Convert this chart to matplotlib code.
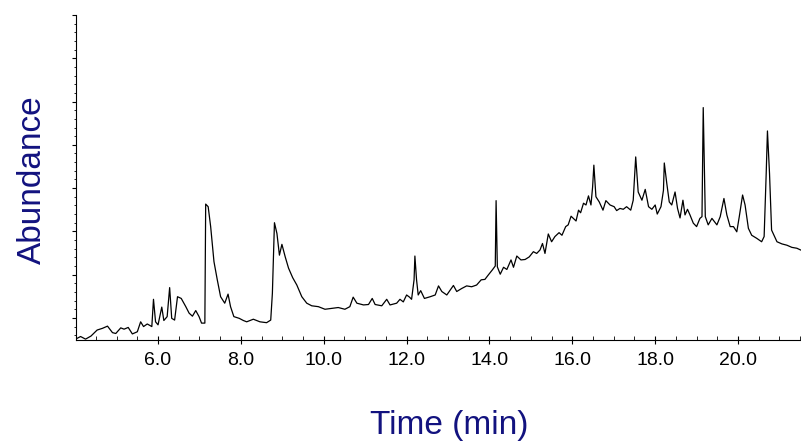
import matplotlib.pyplot as plt
from matplotlib.ticker import MultipleLocator

# retention time (min)
time = [4.01, 4.13, 4.25, 4.38, 4.53, 4.66, 4.78, 4.90, 4.98, 5.10,
        5.18, 5.28, 5.38, 5.50, 5.58, 5.65, 5.74, 5.85, 5.89, 5.94,
        6.00, 6.09, 6.14, 6.22, 6.28, 6.33, 6.40, 6.47, 6.56, 6.67,
        6.75, 6.83, 6.91, 6.99, 7.05, 7.13, 7.15, 7.21, 7.27, 7.35,
        7.43, 7.51, 7.61, 7.69, 7.75, 7.83, 7.96, 8.06, 8.14, 8.30,
        8.46, 8.62, 8.72, 8.76, 8.81, 8.87, 8.93, 8.99, 9.07, 9.15,
        9.25, 9.35, 9.47, 9.59, 9.71, 9.87, 10.03, 10.19, 10.35, 10.51,
        10.63, 10.71, 10.80, 10.96, 11.08, 11.17, 11.24, 11.40, 11.52, 11.60,
        11.76, 11.84, 11.92, 12.00, 12.07, 12.12, 12.18, 12.20, 12.24, 12.28,
        12.34, 12.43, 12.57, 12.69, 12.77, 12.85, 12.97, 13.05, 13.13, 13.21,
        13.33, 13.45, 13.57, 13.69, 13.80, 13.89, 13.97, 14.07, 14.14, 14.16,
        14.19, 14.26, 14.34, 14.42, 14.52, 14.58, 14.66, 14.76, 14.86, 14.96,
        15.06, 15.14, 15.22, 15.28, 15.34, 15.42, 15.50, 15.58, 15.68, 15.75,
        15.84, 15.90, 15.97, 16.09, 16.15, 16.20, 16.27, 16.33, 16.39, 16.45,
        16.49, 16.52, 16.57, 16.65, 16.74, 16.81, 16.91, 17.01, 17.07, 17.15,
        17.23, 17.31, 17.41, 17.47, 17.53, 17.59, 17.68, 17.76, 17.84, 17.92,
        18.00, 18.05, 18.14, 18.20, 18.22, 18.28, 18.34, 18.40, 18.48, 18.54,
        18.60, 18.67, 18.72, 18.78, 18.84, 18.92, 19.00, 19.08, 19.13, 19.16,
        19.21, 19.28, 19.37, 19.49, 19.57, 19.66, 19.73, 19.81, 19.89, 19.97,
        20.03, 20.11, 20.17, 20.25, 20.33, 20.45, 20.57, 20.63, 20.68, 20.71,
        20.76, 20.81, 20.94, 21.06, 21.18, 21.30, 21.42, 21.51]

# abundance (arbitrary units)
abundance = [0.2, 0.8, 0.2, 0.9, 2.3, 2.7, 3.2, 1.7, 1.5, 2.8,
             2.5, 2.9, 1.4, 1.9, 4.2, 3.1, 3.7, 3.1, 9.4, 4.2,
             3.5, 7.6, 4.5, 5.4, 12.1, 5.0, 4.6, 10.0, 9.6, 7.7,
             6.2, 5.5, 6.8, 5.4, 3.9, 3.9, 31.4, 30.8, 26.2, 18.1,
             13.9, 10.0, 8.5, 10.6, 7.7, 5.4, 5.0, 4.5, 4.2, 4.8,
             4.2, 4.0, 4.6, 10.8, 27.1, 24.6, 19.6, 22.1, 19.2, 16.6,
             14.4, 12.7, 10.0, 8.5, 7.9, 7.7, 7.1, 7.3, 7.5, 7.1,
             7.7, 9.9, 8.5, 8.1, 8.2, 9.6, 8.2, 7.9, 9.4, 8.1,
             8.5, 9.4, 8.8, 10.4, 9.9, 9.4, 13.9, 19.4, 13.9, 10.4,
             11.4, 9.6, 10.0, 10.4, 12.5, 11.2, 10.4, 11.5, 12.6, 11.2,
             11.9, 12.5, 12.3, 12.7, 13.9, 14.0, 15.0, 16.2, 17.1, 32.2,
             16.9, 15.2, 16.8, 16.3, 18.5, 16.8, 19.4, 18.5, 18.6, 19.2,
             20.4, 20.0, 20.8, 22.3, 20.0, 24.5, 22.7, 23.9, 24.8, 24.2,
             26.2, 26.6, 28.6, 27.5, 30.0, 29.4, 31.6, 31.2, 33.3, 31.2,
             35.4, 40.4, 33.1, 31.9, 30.0, 32.2, 31.2, 30.8, 29.9, 30.4,
             30.2, 30.8, 30.0, 32.3, 42.3, 34.2, 32.3, 34.8, 30.8, 30.2,
             31.2, 29.1, 30.8, 34.6, 40.9, 36.2, 31.9, 31.2, 34.2, 30.4,
             28.2, 32.3, 28.9, 30.2, 28.9, 27.0, 26.2, 28.1, 28.5, 53.7,
             28.5, 26.6, 28.1, 26.6, 28.5, 32.7, 28.9, 26.2, 26.2, 25.0,
             28.5, 33.5, 31.2, 25.8, 24.2, 23.5, 22.7, 23.9, 38.5, 48.3,
             38.5, 25.4, 22.7, 22.2, 21.9, 21.4, 21.2, 20.8]

xticks = [6.0, 8.0, 10.0, 12.0, 14.0, 16.0, 18.0, 20.0]
label_color = "#12127f"

plt.rcParams["font.family"] = ["Liberation Sans", "DejaVu Sans"]

fig = plt.figure(figsize=(8.01, 4.46), dpi=100)
ax = fig.add_axes([0.0949, 0.2377, 0.9051, 0.7287])

ax.plot(time, abundance, color="black", linewidth=0.9)

ax.set_xlim(4.02, 21.52)
ax.set_ylim(0, 75.1)

ax.spines["top"].set_visible(False)
ax.spines["right"].set_visible(False)

ax.set_xticks(xticks)
ax.set_xticklabels([f"{v:.1f}" for v in xticks])
ax.xaxis.set_minor_locator(MultipleLocator(0.5))
ax.tick_params(axis="x", which="major", direction="inout", length=6, pad=6, labelsize=14)
ax.tick_params(axis="x", which="minor", direction="in", length=3)

ax.yaxis.set_major_locator(MultipleLocator(10, offset=5.1))
ax.yaxis.set_minor_locator(MultipleLocator(2, offset=1.1))
ax.tick_params(axis="y", which="major", direction="out", length=3, labelleft=False)
ax.tick_params(axis="y", which="minor", direction="out", length=1.5)

fig.text(0.5605, 0.047, "Time (min)", ha="center", va="center", fontsize=24, color=label_color)
fig.text(0.041, 0.596, "Abundance", ha="center", va="center", rotation=90, fontsize=24, color=label_color)

fig.savefig("out.png", dpi=100)
